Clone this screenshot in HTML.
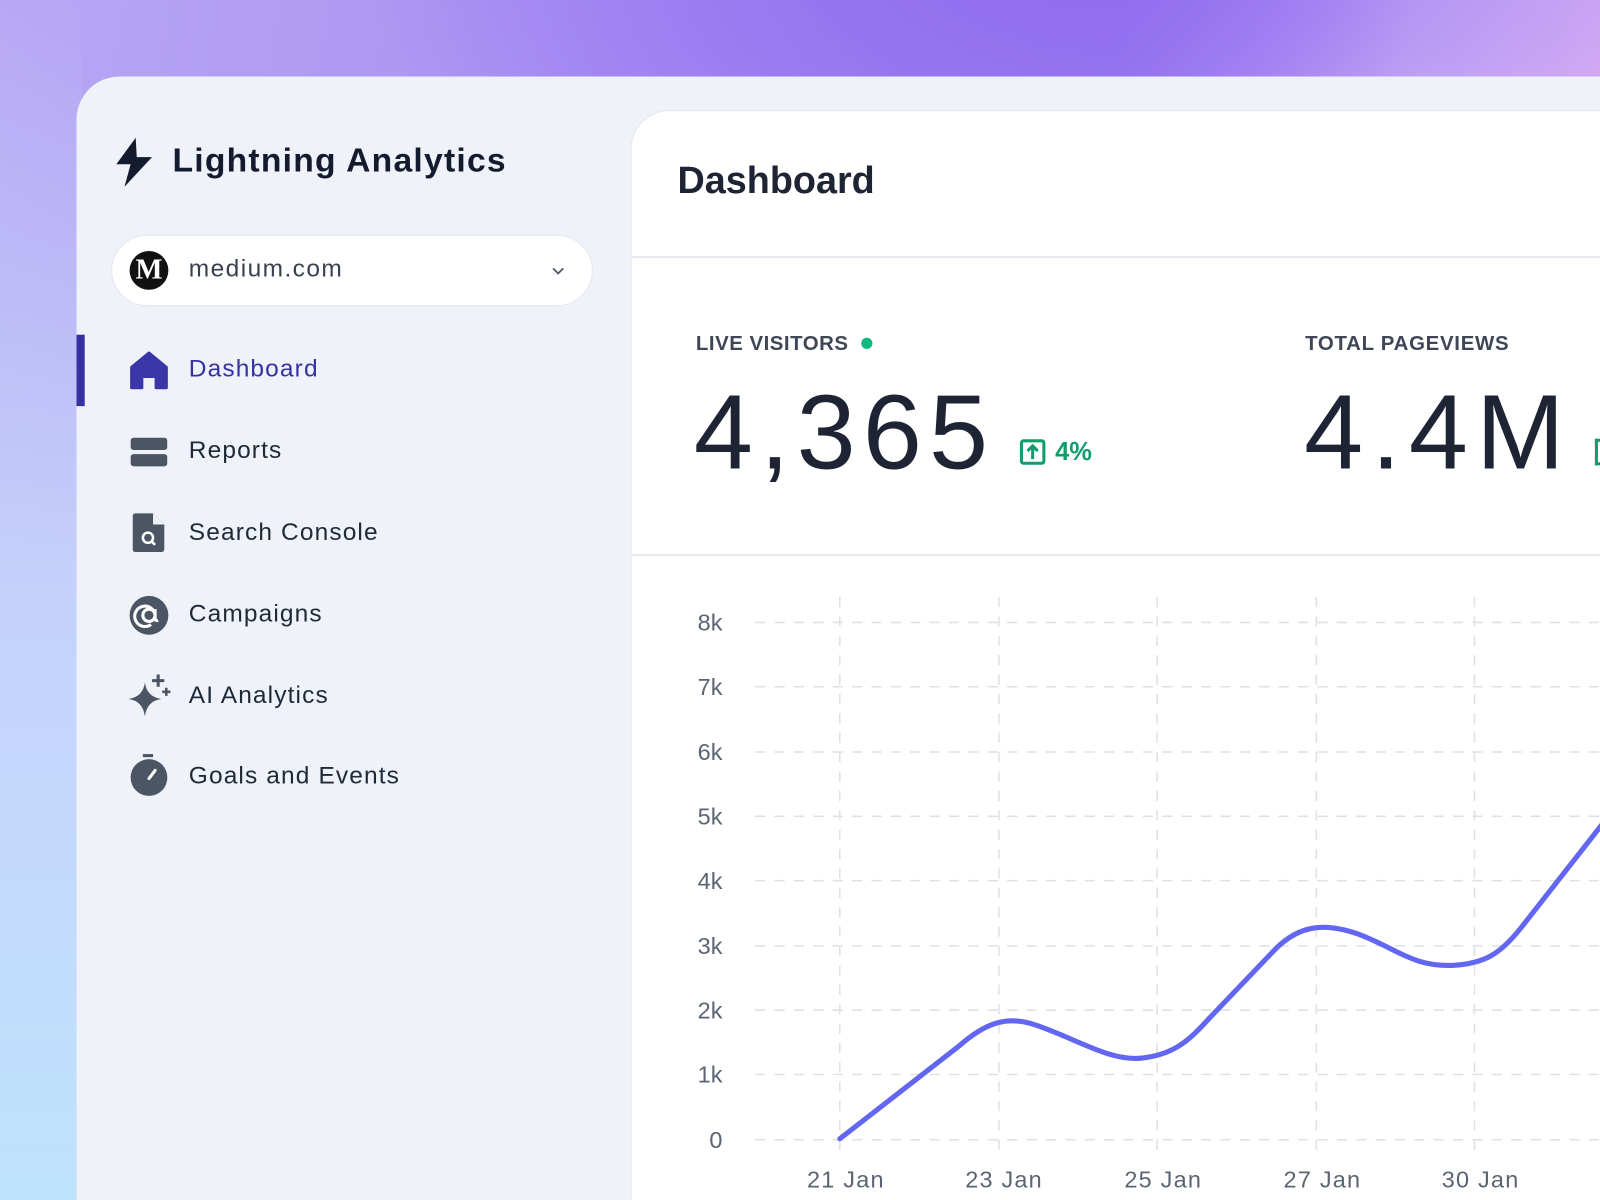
<!DOCTYPE html>
<html><head><meta charset="utf-8"><style>
html,body{margin:0;padding:0;width:1600px;height:1200px;overflow:hidden}
body{font-family:"Liberation Sans",sans-serif}
#w{position:absolute;left:0;top:0;width:1568px;height:1176px;transform:scale(1.0204);transform-origin:0 0;overflow:hidden;
background:radial-gradient(ellipse 700px 300px at 1050px -40px,#8f6cf0 0%,rgba(143,108,240,0) 100%),
linear-gradient(100deg,#b8a8f4 0%,#a58bf2 40%,#9a7cf0 62%,#d9c0f7 78%,#e6a9f0 100%);}
#lb{position:absolute;left:0;top:0;width:80px;height:1176px;background:linear-gradient(180deg,rgba(180,170,245,0) 0%,#c5d2fb 50%,#bfe2fb 100%)}
#panel{position:absolute;left:75px;top:75px;width:1493px;height:1101px;background:#eff2f8;border-top-left-radius:42px}
.a{position:absolute}
.nav{position:absolute;left:185px;font-size:24px;color:#1f2937;line-height:30px;letter-spacing:1.1px}
#card{position:absolute;left:618px;top:108px;width:960px;height:1080px;background:#fff;border-top-left-radius:38px;border:1px solid #e3e7ee}
</style></head><body><div id="w">
<div id="lb"></div>
<div id="panel"></div>
<svg class="a" style="left:112px;top:134px" width="40" height="50" viewBox="0 0 40 50"><path d="M21 1 L2 27 L16 27 L10 49 L37 20 L22 20 Z" fill="#151b2e"/></svg>
<div class="a" style="left:169px;top:138px;font-size:33px;font-weight:bold;color:#151b2e;letter-spacing:1.2px">Lightning Analytics</div>
<div class="a" style="left:109px;top:230px;width:472px;height:70px;background:#fff;border-radius:36px;border:1px solid #e3e7ee;box-sizing:border-box"></div>
<div class="a" style="left:127px;top:246px;width:38px;height:38px;border-radius:50%;background:#111;color:#fff;font-family:'Liberation Serif',serif;font-weight:bold;font-size:28px;text-align:center;line-height:38px">M</div>
<div class="a" style="left:185px;top:250px;font-size:24px;color:#374151;letter-spacing:1.4px">medium.com</div>
<svg class="a" style="left:539px;top:259px" width="16" height="12"><path d="M3 4 L8 9 L13 4" stroke="#4b5563" stroke-width="1.8" fill="none"/></svg>
<div class="a" style="left:75px;top:328px;width:8px;height:70px;background:#3730a3"></div>
<svg class="a" style="left:126px;top:344px" width="40" height="38"><path d="M20 2 L37 16 V36 H27 V25 H13 V36 H3 V16 Z" fill="#3b36a8" stroke="#3b36a8" stroke-width="3" stroke-linejoin="round"/></svg>
<div class="nav" style="top:347px;color:#3730a3">Dashboard</div>
<svg class="a" style="left:128px;top:428px" width="36" height="30"><rect x="0" y="1" width="36" height="12" rx="3" fill="#4b5563"/><rect x="0" y="17" width="36" height="12" rx="3" fill="#4b5563"/></svg>
<div class="nav" style="top:427px">Reports</div>
<svg class="a" style="left:130px;top:503px" width="32" height="38"><path d="M3 0 H20 L31 11 V35 Q31 38 28 38 H3 Q0 38 0 35 V3 Q0 0 3 0Z" fill="#4b5563"/><path d="M20 0 V11 H31" fill="#eff2f8"/><circle cx="15" cy="24" r="5" stroke="#fff" stroke-width="2.5" fill="none"/><path d="M18 27 L22 31" stroke="#fff" stroke-width="2.5"/></svg>
<div class="nav" style="top:507px">Search Console</div>
<svg class="a" style="left:126px;top:583px" width="40" height="40"><circle cx="20" cy="20" r="19" fill="#4b5563"/><circle cx="20" cy="20" r="6" stroke="#fff" stroke-width="3" fill="none"/><path d="M26 14 V22 Q26 26 29 25 M26 20 A10 10 0 1 0 22 29" stroke="#fff" stroke-width="3" fill="none"/></svg>
<div class="nav" style="top:587px">Campaigns</div>
<svg class="a" style="left:124px;top:659px" width="46" height="46"><path d="M18 10 Q20 24 34 26 Q20 28 18 43 Q16 28 2 26 Q16 24 18 10Z" fill="#4b5563"/><path d="M31 2 V14 M25 8 H37" stroke="#4b5563" stroke-width="3"/><path d="M39 15 V23 M35 19 H43" stroke="#4b5563" stroke-width="2.5"/></svg>
<div class="nav" style="top:667px">AI Analytics</div>
<svg class="a" style="left:127px;top:738px" width="38" height="44"><rect x="13" y="1" width="10" height="3" fill="#4b5563"/><circle cx="19" cy="24" r="18" fill="#4b5563"/><path d="M19 25 L25 17" stroke="#fff" stroke-width="3" stroke-linecap="round"/></svg>
<div class="nav" style="top:746px">Goals and Events</div>
<div id="card"></div>
<div class="a" style="left:664px;top:156px;font-size:37px;font-weight:bold;color:#1e2433">Dashboard</div>
<div class="a" style="left:619px;top:251px;width:949px;height:2px;background:#e5e8ee"></div>
<div class="a" style="left:682px;top:326px;font-size:20px;font-weight:bold;color:#3f4757;letter-spacing:0.5px">LIVE VISITORS</div>
<div class="a" style="left:844px;top:331px;width:11px;height:11px;border-radius:50%;background:#10b981"></div>
<div class="a" style="left:1279px;top:326px;font-size:20px;font-weight:bold;color:#3f4757;letter-spacing:0.7px">TOTAL PAGEVIEWS</div>
<div class="a" style="left:680px;top:365px;font-size:104px;color:#1e2433;letter-spacing:7px">4,365</div>
<div class="a" style="left:1278px;top:365px;font-size:104px;color:#1e2433;letter-spacing:8px">4.4M</div>
<svg class="a" style="left:999px;top:430px" width="28" height="28"><rect x="2" y="2" width="22" height="22" rx="2" stroke="#0f9d6a" stroke-width="3" fill="none"/><path d="M13 20 V8 M8 12 L13 7 L18 12" stroke="#0f9d6a" stroke-width="3" fill="none"/></svg>
<div class="a" style="left:1034px;top:429px;font-size:25px;font-weight:bold;color:#0f9d6a">4%</div>
<div class="a" style="left:1563px;top:430px;width:8px;height:26px;border:3px solid #0f9d6a;border-right:none;box-sizing:border-box"></div>
<div class="a" style="left:619px;top:543px;width:949px;height:2px;background:#e5e8ee"></div>
<svg class="a" style="left:0;top:0" width="1568" height="1176">
<g stroke="#dde1e7" stroke-width="1.5" stroke-dasharray="10 9">
<line x1="740" y1="610" x2="1568" y2="610"/><line x1="740" y1="673" x2="1568" y2="673"/><line x1="740" y1="737" x2="1568" y2="737"/><line x1="740" y1="800" x2="1568" y2="800"/><line x1="740" y1="863" x2="1568" y2="863"/><line x1="740" y1="927" x2="1568" y2="927"/><line x1="740" y1="990" x2="1568" y2="990"/><line x1="740" y1="1053" x2="1568" y2="1053"/><line x1="740" y1="1117" x2="1568" y2="1117"/>
<line x1="823" y1="585" x2="823" y2="1135"/><line x1="979" y1="585" x2="979" y2="1135"/><line x1="1134" y1="585" x2="1134" y2="1135"/><line x1="1290" y1="585" x2="1290" y2="1135"/><line x1="1445" y1="585" x2="1445" y2="1135"/>
</g>
<g font-family="Liberation Sans" font-size="23" fill="#5b6472" text-anchor="end">
<text x="708" y="618">8k</text><text x="708" y="681">7k</text><text x="708" y="745">6k</text><text x="708" y="808">5k</text><text x="708" y="871">4k</text><text x="708" y="935">3k</text><text x="708" y="998">2k</text><text x="708" y="1061">1k</text><text x="708" y="1125">0</text>
</g>
<g font-family="Liberation Sans" font-size="23" fill="#5b6472" text-anchor="middle" letter-spacing="1.2">
<text x="829" y="1164">21 Jan</text><text x="984" y="1164">23 Jan</text><text x="1140" y="1164">25 Jan</text><text x="1296" y="1164">27 Jan</text><text x="1451" y="1164">30 Jan</text>
</g>
<path d="M823 1116 L940 1025 C965 1003 985 996 1010 1003 C1050 1015 1085 1040 1118 1037 C1150 1034 1165 1020 1185 998 L1250 930 C1275 905 1300 905 1330 915 C1370 930 1385 948 1425 946 C1455 944 1470 935 1490 910 L1570 808" stroke="#6366f1" stroke-width="5" fill="none" stroke-linecap="round"/>
</svg>
</div></body></html>
